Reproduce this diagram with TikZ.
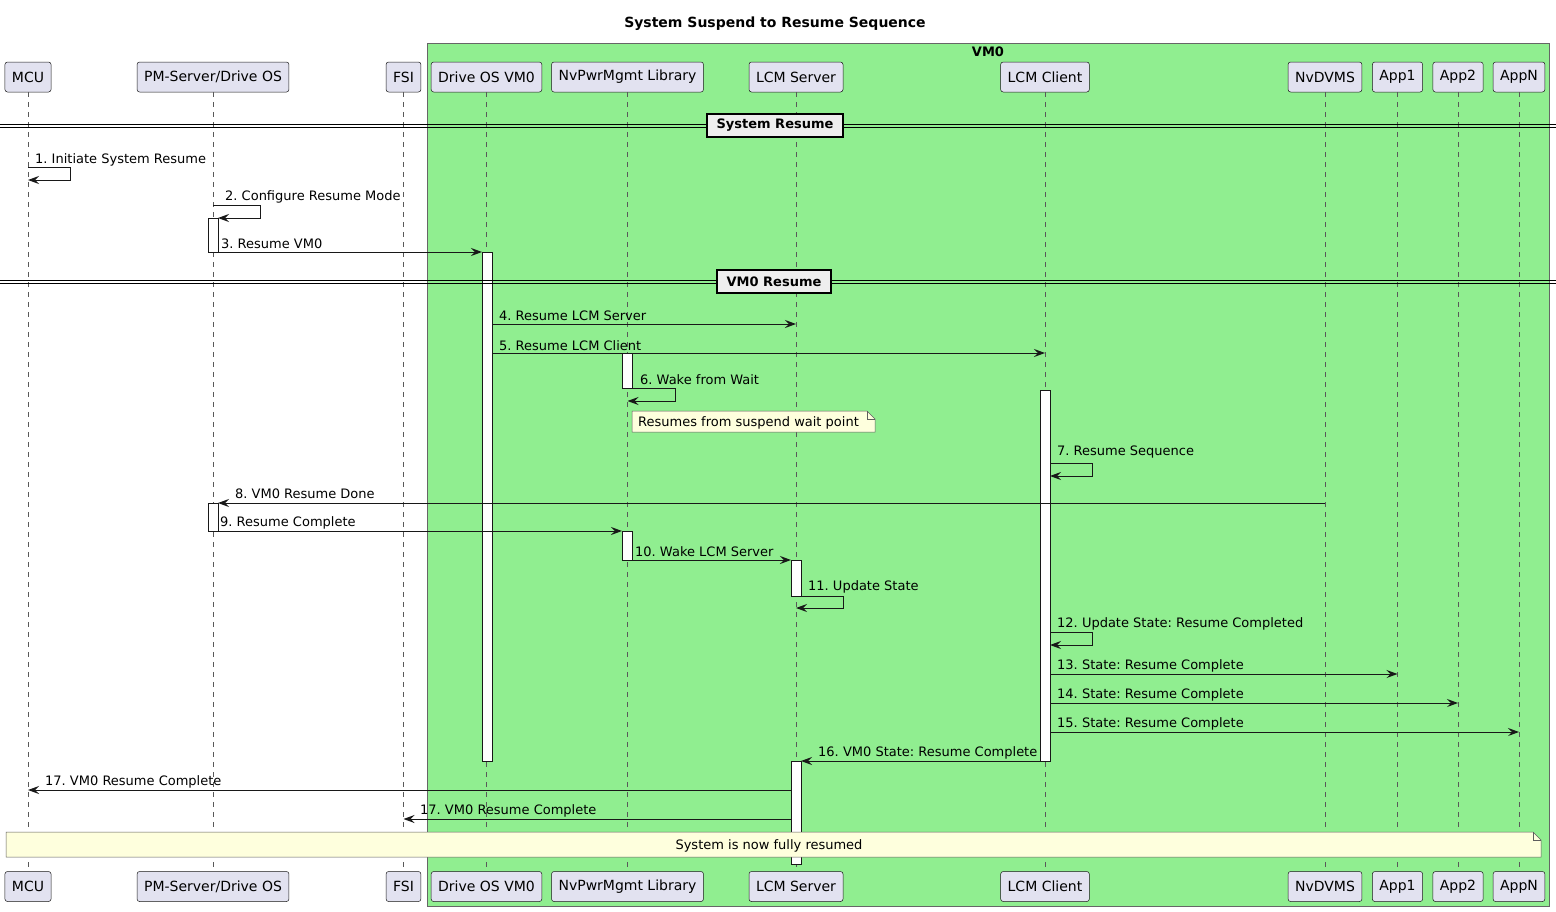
\documentclass[tikz,border=0pt]{standalone}
\usepackage{fontspec}
\setmainfont{DejaVu Sans}
\frenchspacing
\usetikzlibrary{arrows.meta}
\definecolor{partfill}{HTML}{E2E2F0}
\definecolor{linecol}{HTML}{181818}
\definecolor{vmgreen}{HTML}{90EE90}
\definecolor{notefill}{HTML}{FEFFDD}
\definecolor{divfill}{HTML}{EEEEEE}
\tikzset{
    part/.style={draw=linecol, line width=0.5pt, fill=partfill, rounded corners=2.5pt,
        minimum height=30pt, inner xsep=7pt, font=\fontsize{14}{16}\selectfont},
    lifeline/.style={draw=black!65, line width=0.5pt, dash pattern=on 5pt off 5pt},
    act/.style={draw=linecol, line width=0.8pt, fill=white},
    msg/.style={draw=linecol, line width=1pt, -{Stealth[length=11pt, width=8pt, inset=4pt]}},
    lbl/.style={anchor=west, inner sep=0pt, font=\fontsize{13}{15}\selectfont},
    notebox/.style={draw=linecol!70, line width=0.5pt, fill=notefill},
    divbox/.style={draw=black, line width=1.5pt, fill=divfill, inner sep=0pt,
        font=\bfseries\fontsize{13}{15}\selectfont},
}
\begin{document}
\begin{tikzpicture}[x=1pt, y=-1pt]
    \useasboundingbox (0,0) rectangle (1556,911);
    % title
    \node[font=\bfseries\fontsize{14}{16}\selectfont] (title) at (775,23.5) {System Suspend to Resume Sequence};
    % VM0 box
    \draw[fill=vmgreen, draw=black!60, line width=0.8pt] (427,43) rectangle (1549,906);
    \node[font=\bfseries\fontsize{13}{15}\selectfont] (vm) at (988,51.5) {VM0};
    % participants, top and bottom, with lifelines
    \foreach \n/\x/\t in {mcu/28/MCU, pm/213/{PM-Server/Drive OS}, fsi/403.5/FSI,
            dos/486.5/Drive OS VM0, nvp/627.5/NvPwrMgmt Library, lcms/796/LCM Server,
            lcmc/1045/LCM Client, dvms/1325/NvDVMS, app1/1397.5/App1, app2/1458/App2,
            appn/1519/AppN} {
        \node[part] (\n) at (\x,77) {\t};
        \node[part] (\n b) at (\x,886.5) {\t};
        \draw[lifeline] (\n.south) -- (\n b.north);
    }
    % activations
    \draw[act] (208,218) rectangle (218,252);
    \draw[act] (208,503) rectangle (218,531);
    \draw[act] (482,252) rectangle (492,761);
    \draw[act] (622,353) rectangle (632,388);
    \draw[act] (622,531) rectangle (632,560);
    \draw[act] (1040,390) rectangle (1050,761);
    \draw[act] (791,560) rectangle (801,596);
    \draw[act] (791,761) rectangle (801,864);
    % section: System Resume
    \draw[line width=0.8pt] (0,124) -- (1556,124) (0,127.5) -- (1556,127.5);
    \node[divbox, minimum width=136pt, minimum height=23pt] (sysres) at (775,125.5) {System Resume};
    % messages
    \draw[msg] (mcu.south |- 0,167) -- (70,167) -- (70,180) -- (mcu.south |- 0,180);
    \node[lbl] (m1) at (35,160) {1. Initiate System Resume};
    \draw[msg] (pm.south |- 0,205) -- (260,205) -- (260,218) -- (218,218);
    \node[lbl] (m2) at (225,197) {2. Configure Resume Mode};
    \draw[msg] (218,252) -- (482,252);
    \node[lbl] (m3) at (221,244) {3. Resume VM0};
    % section: VM0 Resume
    \draw[line width=0.8pt] (0,280) -- (1556,280) (0,283.5) -- (1556,283.5);
    \node[divbox, minimum width=114pt, minimum height=23pt] (vmres) at (774,281.5) {VM0 Resume};
    \draw[msg] (492,324) -- (lcms.south |- 0,324);
    \node[lbl] (m4) at (499,316) {4. Resume LCM Server};
    \draw[msg] (492,353) -- (lcmc.south |- 0,353);
    \node[lbl] (m5) at (499,346) {5. Resume LCM Client};
    \draw[msg] (632,388) -- (675,388) -- (675,401) -- (nvp.south |- 0,401);
    \node[lbl] (m6) at (640,380) {6. Wake from Wait};
    % note on NvPwrMgmt
    \draw[notebox] (632,411) -- (867,411) -- (875,419) -- (875,432) -- (632,432) -- cycle;
    \draw[notebox, fill=none] (867,411) -- (867,419) -- (875,419);
    \node[lbl] (n1) at (638,422.5) {Resumes from suspend wait point};
    \draw[msg] (1050,463) -- (1092,463) -- (1092,476) -- (1050,476);
    \node[lbl] (m7) at (1057,452) {7. Resume Sequence};
    \draw[msg] (dvms.south |- 0,503) -- (218,503);
    \node[lbl] (m8) at (235,494) {8. VM0 Resume Done};
    \draw[msg] (218,531) -- (622,531);
    \node[lbl] (m9) at (220,523) {9. Resume Complete};
    \draw[msg] (632,560) -- (791,560);
    \node[lbl] (m10) at (635,552) {10. Wake LCM Server};
    \draw[msg] (801,596) -- (843,596) -- (843,608) -- (lcms.south |- 0,608);
    \node[lbl] (m11) at (808,587) {11. Update State};
    \draw[msg] (1050,632) -- (1092,632) -- (1092,645) -- (1050,645);
    \node[lbl] (m12) at (1057,624) {12. Update State: Resume Completed};
    \draw[msg] (1050,674) -- (app1.south |- 0,674);
    \node[lbl] (m13) at (1057,666) {13. State: Resume Complete};
    \draw[msg] (1050,703) -- (app2.south |- 0,703);
    \node[lbl] (m14) at (1057,695) {14. State: Resume Complete};
    \draw[msg] (1050,732) -- (appn.south |- 0,732);
    \node[lbl] (m15) at (1057,724) {15. State: Resume Complete};
    \draw[msg] (1040,761) -- (801,761);
    \node[lbl] (m16) at (818,753) {16. VM0 State: Resume Complete};
    \draw[msg] (791,790) -- (mcu.south |- 0,790);
    \node[lbl] (m17) at (45,782) {17. VM0 Resume Complete};
    \draw[msg] (791,819) -- (fsi.south |- 0,819);
    \node[lbl] (m17b) at (420,811) {17. VM0 Resume Complete};
    % final note across all
    \draw[notebox] (6,832) -- (1533,832) -- (1541,840) -- (1541,857) -- (6,857) -- cycle;
    \draw[notebox, fill=none] (1533,832) -- (1533,840) -- (1541,840);
    \node[font=\fontsize{13}{15}\selectfont] (n2) at (769,846) {System is now fully resumed};
\end{tikzpicture}
\end{document}
